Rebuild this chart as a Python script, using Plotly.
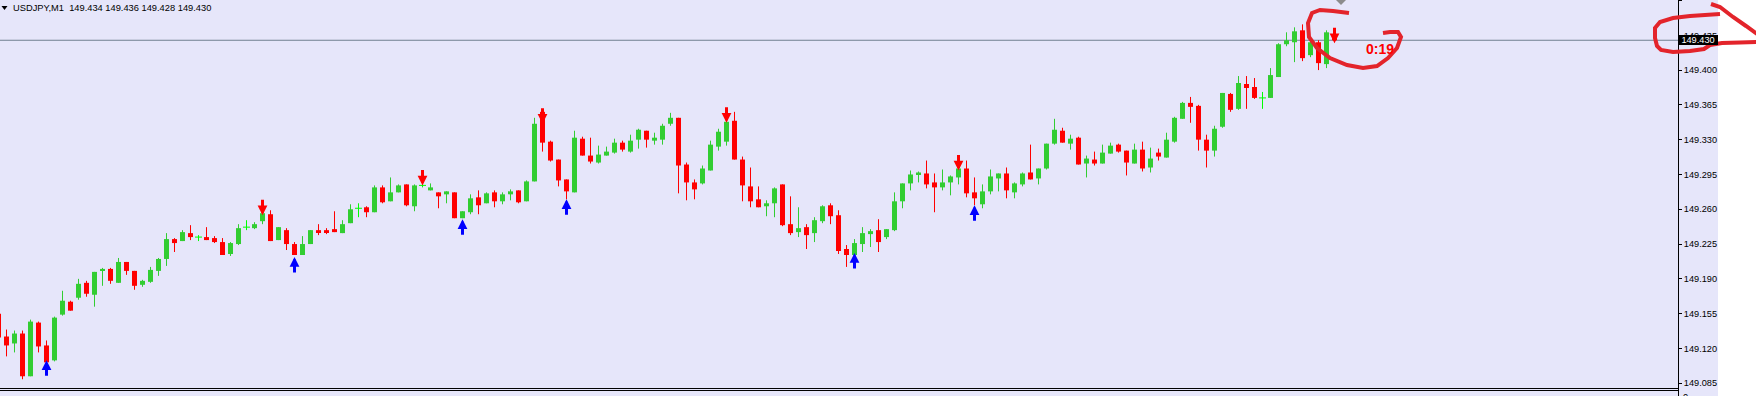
import plotly.graph_objects as go

# ---------------- data ----------------
symbol = "USDJPY,M1"

open_ = [
    149.155, 149.132, 149.125, 149.135, 149.092, 149.146, 149.123, 149.108, 149.154, 149.167,
    149.171, 149.186, 149.174, 149.198, 149.200, 149.186, 149.207, 149.198, 149.184, 149.187,
    149.198, 149.210, 149.230, 149.228, 149.236, 149.232, 149.232, 149.231, 149.227, 149.215,
    149.225, 149.242, 149.241, 149.248, 149.255, 149.229, 149.239, 149.225, 149.214, 149.225,
    149.239, 149.239, 149.240, 149.236, 149.246, 149.261, 149.262, 149.257, 149.282, 149.268,
    149.277, 149.285, 149.263, 149.284, 149.279, 149.277, 149.275, 149.277, 149.251, 149.257,
    149.272, 149.266, 149.277, 149.268, 149.275, 149.279, 149.268, 149.288, 149.358, 149.328,
    149.310, 149.290, 149.277, 149.331, 149.314, 149.307, 149.314, 149.317, 149.327, 149.318,
    149.330, 149.339, 149.329, 149.330, 149.346, 149.352, 149.305, 149.287, 149.286, 149.299,
    149.323, 149.328, 149.349, 149.310, 149.283, 149.270, 149.263, 149.266, 149.285, 149.245,
    149.237, 149.242, 149.236, 149.248, 149.264, 149.254, 149.220, 149.214, 149.225, 149.235,
    149.239, 149.232, 149.239, 149.268, 149.286, 149.295, 149.296, 149.287, 149.282, 149.287,
    149.292, 149.301, 149.277, 149.265, 149.278, 149.291, 149.296, 149.277, 149.285, 149.297,
    149.291, 149.301, 149.326, 149.339, 149.326, 149.332, 149.306, 149.310, 149.306, 149.316,
    149.325, 149.319, 149.306, 149.320, 149.302, 149.317, 149.312, 149.328, 149.351, 149.367,
    149.364, 149.330, 149.319, 149.343, 149.376, 149.361, 149.386, 149.383, 149.372, 149.372,
    149.393, 149.426, 149.428, 149.440, 149.415, 149.428, 149.406, 149.434,
]
high = [
    149.159, 149.139, 149.138, 149.138, 149.149, 149.147, 149.128, 149.152, 149.178, 149.168,
    149.190, 149.188, 149.197, 149.201, 149.201, 149.211, 149.207, 149.198, 149.189, 149.202,
    149.211, 149.236, 149.231, 149.239, 149.244, 149.234, 149.242, 149.233, 149.231, 149.227,
    149.245, 149.249, 149.247, 149.260, 149.259, 149.242, 149.241, 149.227, 149.233, 149.239,
    149.245, 149.241, 149.258, 149.249, 149.265, 149.266, 149.263, 149.284, 149.284, 149.292,
    149.285, 149.285, 149.285, 149.286, 149.286, 149.277, 149.278, 149.277, 149.258, 149.275,
    149.279, 149.277, 149.279, 149.277, 149.280, 149.279, 149.289, 149.352, 149.358, 149.329,
    149.310, 149.290, 149.339, 149.333, 149.332, 149.324, 149.323, 149.331, 149.329, 149.335,
    149.341, 149.339, 149.337, 149.346, 149.357, 149.352, 149.307, 149.290, 149.304, 149.329,
    149.341, 149.352, 149.358, 149.313, 149.302, 149.283, 149.269, 149.282, 149.285, 149.273,
    149.262, 149.245, 149.252, 149.264, 149.266, 149.259, 149.224, 149.230, 149.242, 149.240,
    149.250, 149.240, 149.277, 149.286, 149.299, 149.298, 149.309, 149.296, 149.300, 149.294,
    149.308, 149.309, 149.292, 149.285, 149.300, 149.296, 149.302, 149.287, 149.297, 149.325,
    149.301, 149.326, 149.351, 149.342, 149.335, 149.333, 149.314, 149.318, 149.325, 149.327,
    149.326, 149.319, 149.326, 149.328, 149.322, 149.321, 149.337, 149.353, 149.368, 149.373,
    149.365, 149.335, 149.344, 149.377, 149.377, 149.394, 149.394, 149.392, 149.378, 149.402,
    149.427, 149.438, 149.443, 149.446, 149.429, 149.430, 149.440, 149.436,
]
low = [
    149.128, 149.112, 149.116, 149.089, 149.092, 149.116, 149.106, 149.107, 149.153, 149.158,
    149.169, 149.172, 149.162, 149.183, 149.185, 149.186, 149.194, 149.179, 149.182, 149.186,
    149.193, 149.203, 149.217, 149.228, 149.229, 149.228, 149.229, 149.226, 149.214, 149.213,
    149.224, 149.239, 149.240, 149.245, 149.228, 149.229, 149.219, 149.214, 149.214, 149.225,
    149.234, 149.235, 149.237, 149.236, 149.246, 149.252, 149.252, 149.257, 149.266, 149.268,
    149.277, 149.263, 149.258, 149.282, 149.279, 149.261, 149.266, 149.251, 149.251, 149.255,
    149.255, 149.266, 149.262, 149.265, 149.269, 149.266, 149.268, 149.288, 149.318, 149.308,
    149.283, 149.270, 149.277, 149.314, 149.306, 149.306, 149.314, 149.316, 149.318, 149.317,
    149.321, 149.322, 149.325, 149.325, 149.344, 149.276, 149.269, 149.270, 149.285, 149.299,
    149.319, 149.324, 149.310, 149.268, 149.262, 149.262, 149.253, 149.252, 149.243, 149.234,
    149.232, 149.220, 149.227, 149.246, 149.245, 149.215, 149.202, 149.214, 149.217, 149.222,
    149.217, 149.230, 149.238, 149.261, 149.279, 149.287, 149.281, 149.257, 149.279, 149.274,
    149.285, 149.272, 149.264, 149.261, 149.275, 149.278, 149.271, 149.271, 149.283, 149.290,
    149.285, 149.300, 149.325, 149.327, 149.320, 149.305, 149.292, 149.304, 149.306, 149.316,
    149.317, 149.294, 149.306, 149.298, 149.297, 149.309, 149.312, 149.327, 149.351, 149.347,
    149.319, 149.302, 149.313, 149.342, 149.358, 149.360, 149.361, 149.371, 149.361, 149.372,
    149.393, 149.424, 149.408, 149.409, 149.413, 149.400, 149.402, 149.428,
]
close = [
    149.131, 149.123, 149.135, 149.092, 149.147, 149.122, 149.106, 149.151, 149.168, 149.158,
    149.185, 149.175, 149.197, 149.200, 149.188, 149.207, 149.198, 149.183, 149.188, 149.199,
    149.210, 149.230, 149.226, 149.237, 149.232, 149.232, 149.229, 149.227, 149.214, 149.226,
    149.241, 149.242, 149.245, 149.256, 149.228, 149.242, 149.225, 149.214, 149.225, 149.239,
    149.237, 149.237, 149.237, 149.245, 149.260, 149.261, 149.257, 149.282, 149.267, 149.277,
    149.284, 149.264, 149.284, 149.284, 149.282, 149.273, 149.278, 149.251, 149.258, 149.271,
    149.264, 149.276, 149.268, 149.275, 149.278, 149.267, 149.288, 149.346, 149.327, 149.309,
    149.289, 149.278, 149.332, 149.314, 149.308, 149.315, 149.318, 149.327, 149.320, 149.329,
    149.340, 149.330, 149.332, 149.344, 149.352, 149.304, 149.287, 149.280, 149.301, 149.325,
    149.338, 149.348, 149.310, 149.284, 149.268, 149.262, 149.266, 149.281, 149.244, 149.236,
    149.241, 149.234, 149.249, 149.263, 149.253, 149.218, 149.214, 149.226, 149.236, 149.238,
    149.227, 149.240, 149.268, 149.286, 149.295, 149.297, 149.285, 149.282, 149.287, 149.293,
    149.301, 149.276, 149.271, 149.278, 149.293, 149.296, 149.279, 149.286, 149.296, 149.290,
    149.301, 149.326, 149.340, 149.327, 149.331, 149.305, 149.311, 149.306, 149.317, 149.324,
    149.318, 149.307, 149.320, 149.301, 149.311, 149.313, 149.330, 149.352, 149.367, 149.363,
    149.330, 149.319, 149.341, 149.377, 149.360, 149.387, 149.382, 149.372, 149.372, 149.395,
    149.426, 149.430, 149.439, 149.412, 149.428, 149.407, 149.438, 149.430,
]

# signal arrows: candle index and price of the arrow tip
sell_arrow_idx = [33, 53, 68, 91, 120, 167]
sell_arrow_price = [149.254, 149.284, 149.346, 149.347, 149.299, 149.427]
buy_arrow_idx = [6, 37, 58, 71, 107, 122]
buy_arrow_price = [149.108, 149.212, 149.250, 149.270, 149.216, 149.264]

y_ticks = [149.085, 149.120, 149.155, 149.190, 149.225, 149.260,
           149.295, 149.330, 149.365, 149.400, 149.435, 149.470]
timer_text = "0:19"

# ---------------- styling ----------------
W, H = 1756, 396
PLOT_R, PLOT_B = 1678, 388
BG = "#E6E6FA"
UP, DOWN, DOJI = "#32CD32", "#FF0000", "#00FF00"
INK = "#E3242B"
FONT = "Liberation Sans"

x = list(range(len(open_)))
up = [i for i in x if close[i] > open_[i]]
dn = [i for i in x if close[i] < open_[i]]
dj = [i for i in x if close[i] == open_[i]]


def wick_xy(idx):
    xs, ys = [], []
    for i in idx:
        xs += [i, i, None]
        ys += [low[i], high[i], None]
    return xs, ys


fig = go.Figure()
fig.add_trace(go.Bar(x=up, base=[open_[i] for i in up], y=[close[i] - open_[i] for i in up],
                     width=0.625, marker=dict(color=UP, line=dict(width=0)), hoverinfo="skip"))
fig.add_trace(go.Bar(x=dn, base=[close[i] for i in dn], y=[open_[i] - close[i] for i in dn],
                     width=0.625, marker=dict(color=DOWN, line=dict(width=0)), hoverinfo="skip"))
for idx, col in ((up, UP), (dn, DOWN), (dj, DOJI)):
    wx, wy = wick_xy(idx)
    fig.add_trace(go.Scatter(x=wx, y=wy, mode="lines", line=dict(color=col, width=1),
                             hoverinfo="skip"))
fig.add_trace(go.Scatter(x=dj, y=[open_[i] for i in dj], mode="markers",
                         marker=dict(symbol="line-ew", size=5, line=dict(color=DOJI, width=1)),
                         hoverinfo="skip"))


def px_path(points, close_path=False):
    s = "M" + " L".join(f"{px},{-py}" for px, py in points)
    return s + (" Z" if close_path else "")


def px_shape(points, close_path=False, **kw):
    return dict(type="path", xref="paper", yref="paper", xsizemode="pixel", ysizemode="pixel",
                xanchor=0, yanchor=1, path=px_path(points, close_path), **kw)


shapes = [
    # lavender outside the plot area (axis strip and bottom strip)
    px_shape([(PLOT_R, 0), (1718, 0), (1718, H), (PLOT_R, H)], True,
             fillcolor=BG, line=dict(width=0), layer="below"),
    px_shape([(0, PLOT_B), (PLOT_R, PLOT_B), (PLOT_R, H), (0, H)], True,
             fillcolor=BG, line=dict(width=0), layer="below"),
    # bid line
    dict(type="line", xref="paper", yref="y", x0=0, x1=1, y0=close[-1], y1=close[-1],
         line=dict(color="#708090", width=1), layer="below"),
    # second separator line and axis extension
    px_shape([(0, 390.5), (PLOT_R + 1, 390.5)], line=dict(color="black", width=1)),
    px_shape([(PLOT_R + 0.5, PLOT_B), (PLOT_R + 0.5, H)], line=dict(color="black", width=1)),
    # header triangle
    px_shape([(1.5, 6), (7.5, 6), (4.5, 10)], True, fillcolor="black", line=dict(width=0)),
    # chart shift marker
    px_shape([(1336, 0), (1346, 0), (1341, 5)], True, fillcolor="#8C8C8C", line=dict(width=0)),
    # hand-drawn red marks
    px_shape([(1349, 13), (1333, 11), (1320, 10), (1312, 13), (1308, 23), (1309, 37),
              (1317, 48), (1330, 58), (1347, 65), (1363, 68), (1377, 66), (1388, 58),
              (1397, 48), (1401, 37), (1398, 32), (1390, 32), (1383, 33)],
             line=dict(color=INK, width=4)),
    px_shape([(1720, 14), (1705, 15), (1690, 16), (1673, 18), (1660, 22), (1655, 28),
              (1655, 38), (1657, 46), (1661, 50), (1673, 52), (1690, 51), (1704, 49),
              (1710, 45), (1722, 43), (1740, 42.5), (1757, 42)],
             line=dict(color=INK, width=4)),
    px_shape([(1711, 4), (1720, 7), (1733, 17), (1746, 26), (1757, 34)],
             line=dict(color=INK, width=4)),
]

annotations = [
    dict(xref="paper", yref="paper", x=13 / PLOT_R, y=1 - 7.5 / PLOT_B, xanchor="left",
         yanchor="middle", showarrow=False, borderpad=0, borderwidth=0,
         text=f"{symbol}\u00a0\u00a0{open_[-1]:.3f} {high[-1]:.3f} {low[-1]:.3f} {close[-1]:.3f}",
         font=dict(family=FONT, size=9.3, color="black")),
    dict(xref="paper", yref="y", x=1, y=close[-1], xanchor="left", yanchor="middle",
         showarrow=False, text=f"{close[-1]:.3f}", bgcolor="black", borderpad=0, borderwidth=0,
         width=40, height=10, font=dict(family=FONT, size=9.2, color="white")),
    dict(xref="paper", yref="paper", x=1380 / PLOT_R, y=1 - 49 / PLOT_B, xanchor="center",
         yanchor="middle", showarrow=False, text=f"<b>{timer_text}</b>", borderpad=0,
         borderwidth=0, font=dict(family=FONT, size=14, color="#FF0000")),
    dict(xref="paper", yref="paper", x=1683 / PLOT_R, y=1 - 392 / PLOT_B, xanchor="left",
         yanchor="top", showarrow=False, text="0", borderpad=0, borderwidth=0,
         font=dict(family=FONT, size=9.2, color="black")),
]
for i, p in zip(sell_arrow_idx, sell_arrow_price):
    annotations.append(dict(x=i, y=p, xref="x", yref="y", text="", showarrow=True, ax=0, ay=-17,
                            arrowhead=2, arrowsize=0.65, arrowwidth=3, arrowcolor="#FF0000",
                            standoff=0))
for i, p in zip(buy_arrow_idx, buy_arrow_price):
    annotations.append(dict(x=i, y=p, xref="x", yref="y", text="", showarrow=True, ax=0, ay=17,
                            arrowhead=2, arrowsize=0.65, arrowwidth=3, arrowcolor="#0000FF",
                            standoff=0))

fig.update_layout(
    width=W, height=H, margin=dict(l=0, r=W - PLOT_R, t=0, b=H - PLOT_B, pad=0),
    paper_bgcolor="white", plot_bgcolor=BG, showlegend=False, barmode="overlay",
    xaxis=dict(range=[0.1875, 209.9375], showticklabels=False, ticks="", showgrid=False,
               zeroline=False, showline=True, linecolor="black", linewidth=1, fixedrange=True),
    yaxis=dict(side="right", range=[149.0802, 149.4705], tickvals=y_ticks,
               ticktext=[f"{v:.3f}" for v in y_ticks], ticks="outside", ticklen=3,
               tickcolor="black", tickwidth=1, showgrid=False, zeroline=False, showline=True,
               linecolor="black", linewidth=1, fixedrange=True,
               tickfont=dict(family=FONT, size=9.2, color="black")),
    shapes=shapes, annotations=annotations,
)

fig.write_html("out.html", config={"displayModeBar": False})
